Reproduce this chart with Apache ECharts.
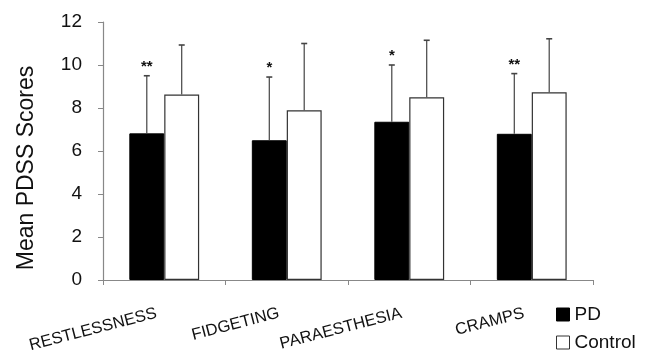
<!DOCTYPE html>
<html><head><meta charset="utf-8">
<script src="https://cdn.jsdelivr.net/npm/echarts@6/dist/echarts.min.js"></script>
<style>html,body{margin:0;padding:0;background:#fff}#c{width:650px;height:351px}</style>
</head><body><div id="c"></div>
<script>
var categories = ['RESTLESSNESS', 'FIDGETING', 'PARAESTHESIA', 'CRAMPS'];
var pdMean = [6.82, 6.5, 7.36, 6.8];
var pdUpper = [9.5, 9.44, 10.0, 9.6];
var controlMean = [8.63, 7.89, 8.5, 8.73];
var controlUpper = [10.93, 11.0, 11.15, 11.22];
var significance = ['**', '*', '*', '**'];
var yTicks = [0, 2, 4, 6, 8, 10, 12];
var yTitle = 'Mean PDSS Scores';

var chart = echarts.init(document.getElementById('c'), null, {renderer: 'canvas'});
var font = 'Liberation Sans, Arial, sans-serif';
var frac = 0.57; // fraction of band used by the two bars

function errRender(side, withStars) {
  return function (params, api) {
    var i = api.value(0);
    var band = api.size([1, 0])[0];
    var bw = band * frac / 2;
    var base = api.coord([i, api.value(1)]);
    var top = api.coord([i, api.value(2)]);
    var x = base[0] + side * bw / 2;
    var cap = 3;
    var children = [
      {type: 'line', shape: {x1: x, y1: base[1], x2: x, y2: top[1]}, style: {stroke: '#444', lineWidth: 1.2}},
      {type: 'line', shape: {x1: x - cap, y1: top[1], x2: x + cap, y2: top[1]}, style: {stroke: '#444', lineWidth: 1.6}}
    ];
    if (withStars) {
      children.push({type: 'text', style: {text: significance[i], x: x, y: top[1] - 9, textAlign: 'center', textVerticalAlign: 'middle', font: 'bold 15px ' + font, fill: '#111'}});
    }
    return {type: 'group', children: children};
  };
}

var legendText = {fontFamily: font, fontSize: 19, color: '#111'};
chart.setOption({
  animation: false,
  backgroundColor: '#fff',
  grid: {left: 103, right: 57, top: 22, bottom: 71, containLabel: false, outerBoundsMode: 'none'},
  graphic: [{
    type: 'text', x: 27, y: 168, rotation: Math.PI / 2,
    style: {text: yTitle, textAlign: 'center', textVerticalAlign: 'middle', font: '23px ' + font, fill: '#111'}
  }],
  legend: [
    {left: 556, top: 305, padding: 0, itemWidth: 13, itemHeight: 13, itemGap: 4, icon: 'rect',
     textStyle: legendText,
     data: [{name: 'PD', itemStyle: {color: '#000', borderColor: '#000', borderWidth: 1}}]},
    {left: 556, top: 333, padding: 0, itemWidth: 13, itemHeight: 13, itemGap: 4, icon: 'rect',
     textStyle: legendText,
     data: [{name: 'Control', itemStyle: {color: '#fff', borderColor: '#333', borderWidth: 1}}]}
  ],
  xAxis: {
    type: 'category', data: categories,
    axisLine: {lineStyle: {color: '#888', width: 1.2}},
    axisTick: {show: true, length: 5, lineStyle: {color: '#888'}},
    axisLabel: {rotate: 14.5, fontFamily: font, fontSize: 16.5, color: '#111', margin: 31, padding: [0, 8, 0, 0]}
  },
  yAxis: {
    type: 'value', min: 0, max: 12, interval: 2,
    axisLine: {show: true, lineStyle: {color: '#888', width: 1.2}},
    axisTick: {show: true, length: 5, lineStyle: {color: '#888'}},
    splitLine: {show: false},
    axisLabel: {fontFamily: font, fontSize: 19, color: '#111', margin: 21,
      formatter: function (v) { return yTicks.indexOf(v) >= 0 ? String(v) : ''; }}
  },
  series: [
    {name: 'PD', type: 'bar', data: pdMean, barGap: '0%', barCategoryGap: '43%',
     itemStyle: {color: '#000', borderColor: '#000', borderWidth: 1}},
    {name: 'Control', type: 'bar', data: controlMean,
     itemStyle: {color: '#fff', borderColor: '#333', borderWidth: 1.2}},
    {name: 'PD err', type: 'custom', renderItem: errRender(-1, true), z: 5,
     data: pdMean.map(function (v, i) { return [i, v, pdUpper[i]]; })},
    {name: 'Control err', type: 'custom', renderItem: errRender(1, false), z: 5,
     data: controlMean.map(function (v, i) { return [i, v, controlUpper[i]]; })}
  ]
});
</script></body></html>
